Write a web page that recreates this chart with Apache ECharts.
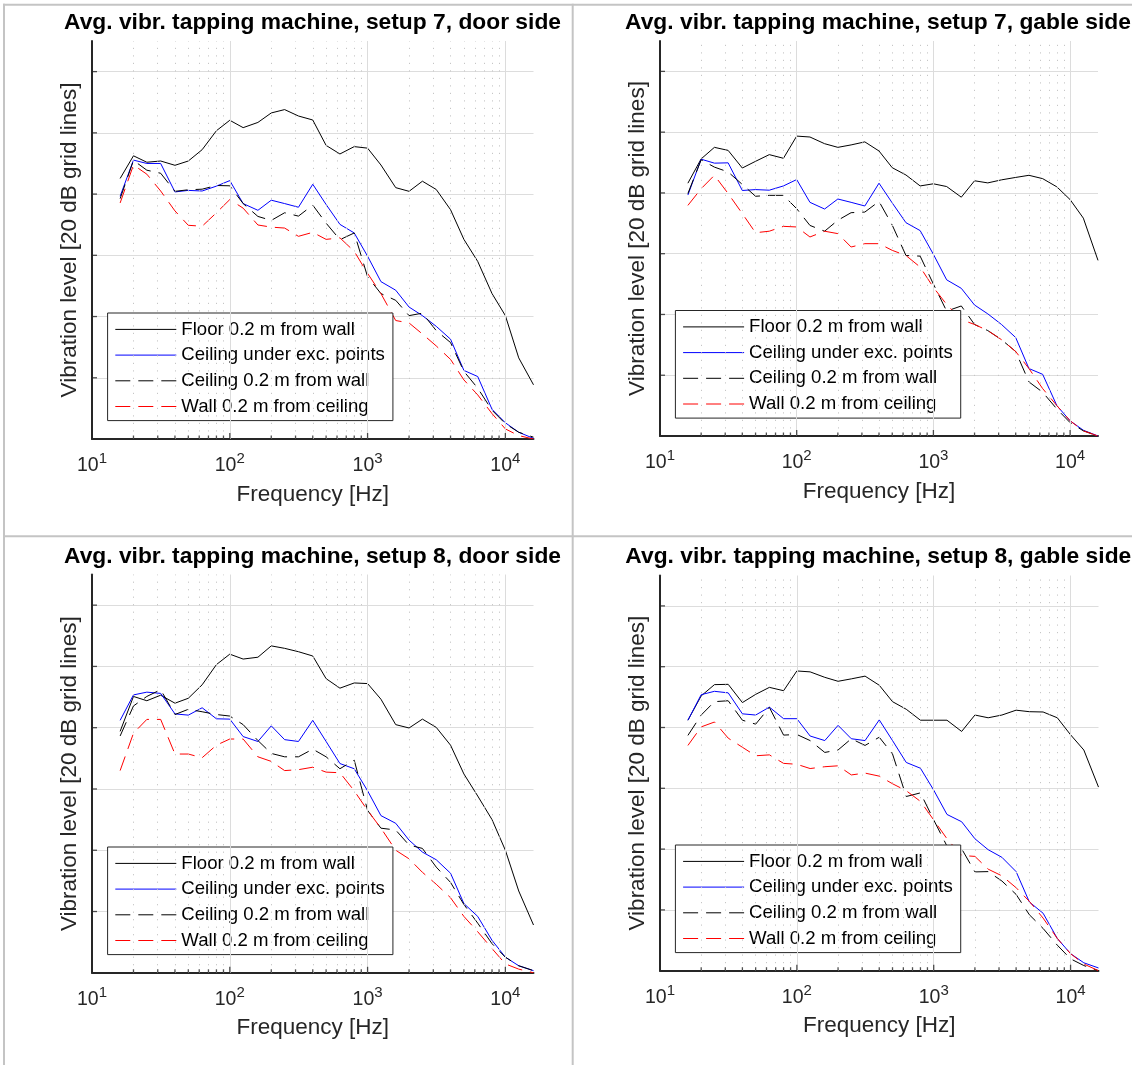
<!DOCTYPE html>
<html><head><meta charset="utf-8">
<script src="https://cdn.jsdelivr.net/npm/echarts@6/dist/echarts.min.js"></script>
<style>html,body{margin:0;padding:0;background:#fff}#c{width:1132px;height:1065px}</style>
</head><body><div id="c"></div>
<script>
// third-octave band centre frequencies [Hz]
const freqs = [16,20,25,31.5,40,50,63,80,100,125,160,200,250,315,400,500,630,800,1000,1250,1600,2000,2500,3150,4000,5000,6300,8000,10000,12500,16000];

const seriesNames = ['Floor 0.2 m from wall','Ceiling under exc. points','Ceiling 0.2 m from wall','Wall 0.2 m from ceiling'];
const panelTitles = [
  'Avg. vibr. tapping machine, setup 7, door side',
  'Avg. vibr. tapping machine, setup 7, gable side',
  'Avg. vibr. tapping machine, setup 8, door side',
  'Avg. vibr. tapping machine, setup 8, gable side'
];

// setup 7, door side
const floor7d   = [85.1,92.5,90.4,90.8,89.4,90.8,94.5,100.7,104.1,101.7,103.4,106.5,107.6,105.5,104.2,95.9,93.1,95.5,95.0,89.5,82.1,80.9,84.2,81.5,74.9,65.2,58.0,47.5,40.3,26.5,17.7];
const ceilExc7d = [79.3,91.1,90.0,90.0,80.7,81.2,81.0,82.6,84.4,76.9,74.7,78.0,76.9,75.7,83.2,76.6,70.1,67.3,59.7,51.4,48.6,43.1,40.3,36.8,32.6,22.4,20.4,9.7,5.3,2.2,0.2];
const ceilWall7d= [78.5,91.0,87.8,86.8,80.9,81.4,81.6,82.8,82.7,76.9,72.7,71.4,73.9,72.8,76.4,70.5,65.1,67.3,53.0,47.5,45.3,40.3,41.1,35.4,31.5,22.1,16.6,9.4,5.0,2.2,0.6];
const wall7d    = [77.1,89.5,86.5,81.0,74.5,69.8,69.5,73.9,78.2,75.4,69.9,69.2,68.9,66.2,67.5,65.2,65.7,61.3,54.1,47.5,38.7,37.9,34.3,30.4,26.0,19.3,14.4,8.3,3.3,1.1,0.0];

// setup 7, gable side
const floor7g   = [83.2,91.2,95.0,94.0,88.2,90.4,92.6,91.4,98.7,98.4,96.2,95.0,95.8,96.8,93.8,88.3,85.9,82.3,83.0,82.1,78.6,84.0,83.3,84.3,85.1,85.8,84.7,82.0,77.8,71.7,57.8];
const ceilExc7g = [79.3,91.1,89.8,89.9,80.8,81.1,80.9,82.3,84.4,76.9,74.7,78.0,76.9,75.7,83.2,76.7,70.2,67.6,59.8,51.4,48.6,43.1,40.2,36.7,32.4,22.2,20.3,10.0,5.0,1.9,0.0];
const ceilWall7g= [79.8,90.9,88.5,86.9,82.8,78.9,79.2,79.2,74.8,69.3,67.4,71.0,73.5,73.7,77.2,69.4,59.4,59.2,50.0,41.1,42.8,36.7,34.7,31.7,27.8,17.8,14.4,8.9,4.4,1.7,0.0];
const wall7g    = [75.9,81.4,85.8,79.8,73.2,66.9,67.4,69.0,68.8,65.5,67.4,66.6,62.2,63.3,63.3,61.1,59.4,55.6,48.9,43.3,38.3,36.7,34.7,31.7,27.8,22.2,15.6,10.0,5.0,1.7,0.0];

// setup 8, door side
const floor8d   = [78.8,90.2,88.8,90.6,88.0,89.6,94.0,100.6,104.0,102.4,103.0,106.7,105.9,104.8,103.4,96.0,92.9,94.6,94.4,89.3,81.0,79.9,82.8,80.1,74.3,64.9,57.7,50.0,40.0,26.7,15.6];
const ceilExc8d = [82.4,90.7,91.6,91.2,84.5,84.1,86.5,82.9,82.8,77.1,75.5,80.6,76.1,75.5,82.4,75.5,68.3,66.6,59.4,51.3,48.8,43.3,39.4,36.9,32.5,22.6,18.4,10.6,5.1,2.3,0.7];
const ceilWall8d= [77.3,87.1,90.2,92.4,84.3,86.0,85.2,84.3,83.8,81.0,75.8,71.6,70.5,70.5,73.0,70.5,66.6,69.4,53.0,47.2,46.6,41.7,40.6,34.5,29.5,22.3,16.2,9.5,5.1,2.3,0.7];
const wall8d    = [66.0,78.2,82.7,82.7,71.4,71.4,70.2,74.3,76.3,76.3,70.5,69.0,66.0,66.3,67.1,65.5,65.3,59.4,53.0,47.2,40.0,37.2,32.8,28.9,24.5,18.4,13.4,7.9,2.9,1.2,0.0];

// setup 8, gable side
const floor8g   = [82.4,90.4,94.1,94.2,88.2,90.9,93.2,92.1,98.6,98.3,96.5,95.2,96.0,96.9,93.9,88.5,86.0,82.4,82.4,82.4,78.7,84.1,83.2,84.1,85.7,85.2,85.1,83.2,77.6,72.6,60.4];
const ceilExc8g = [82.4,90.8,91.9,91.4,84.5,84.1,86.7,82.9,82.9,77.2,75.7,80.7,76.3,75.7,82.5,75.7,68.5,66.6,59.4,51.4,49.0,43.4,39.8,37.3,32.6,22.6,18.9,10.6,5.6,2.6,0.9];
const ceilWall8g= [77.4,84.1,88.5,88.8,82.4,81.1,86.6,77.5,77.7,75.7,71.8,72.6,76.3,74.1,76.8,71.3,57.3,58.5,49.6,41.0,40.1,32.5,32.6,29.5,25.1,18.4,13.9,8.4,3.9,1.7,0.0];
const wall8g    = [74.1,80.2,81.8,76.5,73.5,70.7,71.0,68.2,67.9,66.5,67.1,67.4,64.4,65.0,64.0,61.5,59.2,55.7,49.6,43.4,37.9,37.6,33.4,31.2,27.3,22.8,17.3,10.6,5.6,2.2,0.0];

const panelData = [
  [floor7d, ceilExc7d, ceilWall7d, wall7d],
  [floor7g, ceilExc7g, ceilWall7g, wall7g],
  [floor8d, ceilExc8d, ceilWall8d, wall8d],
  [floor8g, ceilExc8g, ceilWall8g, wall8g]
];

// axis grid / tick positions
const majorFreqTicks = [100, 1000, 10000];
const minorFreqTicks = [20,30,40,50,60,70,80,90,200,300,400,500,600,700,800,900,2000,3000,4000,5000,6000,7000,8000,9000];
const levelTicks = [20, 40, 60, 80, 100, 120];

// layout (pixels)
const GRIDS = [
  {left: 92,  top: 41,    width: 441.5, height: 398},
  {left: 660, top: 41,    width: 438,   height: 395},
  {left: 92,  top: 574.5, width: 441.5, height: 398.3},
  {left: 660, top: 575.5, width: 438.5, height: 395.2}
];
const TITLE_POS = [[312.5, 9.8],[878, 9.8],[312.5, 543.8],[878.3, 543.4]];
const LEGEND_POS = [[107.6, 313],[675.4, 310.5],[107.6, 847],[675.4, 845]];

const lineStyles = [
  {color:'#000000', width:1, type:'solid'},
  {color:'#0000ff', width:1, type:'solid'},
  {color:'#000000', width:1, type:[15,8]},
  {color:'#ff0000', width:1, type:[15,8]}
];

const FONT = '"Liberation Sans", Arial, Helvetica, sans-serif';
const AX = '#262626';

const series = [];
GRIDS.forEach((g, i) => {
  // grid lines (vertical) via markLine
  series.push({
    type: 'line', xAxisIndex: i, yAxisIndex: i, z: 1, silent: true,
    data: [], showSymbol: false,
    markLine: {
      silent: true, symbol: 'none', animation: false, label: {show: false},
      data: [
        ...minorFreqTicks.map(f => ({xAxis: f, lineStyle: {color:'#c6c6c6', width:1, type:[1.2,6.3]}})),
        ...majorFreqTicks.map(f => ({xAxis: f, lineStyle: {color:'#dcdcdc', width:1, type:'solid'}}))
      ]
    }
  });
  // data series
  panelData[i].forEach((vals, k) => {
    series.push({
      type: 'line', name: seriesNames[k], xAxisIndex: i, yAxisIndex: i, z: 3,
      symbol: 'none', showSymbol: false, smooth: false,
      lineStyle: lineStyles[k], itemStyle: {color: lineStyles[k].color, opacity: 0},
      data: freqs.map((f, j) => [f, vals[j]])
    });
  });
  // inside tick marks
  series.push({
    type: 'scatter', xAxisIndex: i, yAxisIndex: i, z: 5, silent: true, clip: false,
    symbol: 'rect', itemStyle: {color: AX},
    data: [
      ...minorFreqTicks.map(f => ({value:[f,0], symbolSize:[1.3,3.5], symbolOffset:[0,-1.75]})),
      ...majorFreqTicks.map(f => ({value:[f,0], symbolSize:[1.3,6], symbolOffset:[0,-3]})),
      ...levelTicks.map(v => ({value:[10,v], symbolSize:[5,1.3], symbolOffset:[2.5,0]}))
    ]
  });
});

const chart = echarts.init(document.getElementById('c'), null, {renderer: 'canvas'});
chart.setOption({
  animation: false,
  backgroundColor: '#ffffff',
  textStyle: {fontFamily: FONT},
  title: panelTitles.map((t, i) => ({
    text: t, left: TITLE_POS[i][0], top: TITLE_POS[i][1], textAlign: 'center', padding: 0,
    textStyle: {fontFamily: FONT, fontSize: 22.8, fontWeight: 'bold', color: '#000', lineHeight: 26}
  })),
  legend: LEGEND_POS.map(p => ({
    data: seriesNames, orient: 'vertical', left: p[0], top: p[1],
    itemWidth: 61, itemHeight: 20, itemGap: 5.7, padding: [6.4, 8, 4.1, 7.2],
    backgroundColor: '#ffffff', borderColor: AX, borderWidth: 1, borderRadius: 0,
    selectedMode: false,
    itemStyle: {opacity: 0},
    lineStyle: {width: 1},
    textStyle: {fontFamily: FONT, fontSize: 18.6, color: '#000', lineHeight: 20}
  })),
  grid: GRIDS.map(g => Object.assign({containLabel: false, outerBoundsMode: 'none'}, g)),
  xAxis: GRIDS.map((g, i) => ({
    type: 'log', logBase: 10, gridIndex: i, min: 10, max: 16000,
    name: 'Frequency [Hz]', nameLocation: 'middle', nameGap: 42,
    nameTextStyle: {fontFamily: FONT, fontSize: 22.5, color: AX, lineHeight: 26},
    axisLine: {onZero: false, lineStyle: {color: AX, width: 2}},
    axisTick: {show: false}, splitLine: {show: false}, minorTick: {show: false}, minorSplitLine: {show: false},
    axisLabel: {
      margin: 12, showMaxLabel: false, showMinLabel: true, hideOverlap: false,
      formatter: v => '{b|10}{s|' + Math.round(Math.log10(v)) + '}',
      rich: {
        b: {fontFamily: FONT, fontSize: 19.5, color: AX, lineHeight: 30},
        s: {fontFamily: FONT, fontSize: 15, color: AX, lineHeight: 15, padding: [0, 0, 14, 0]}
      }
    }
  })),
  yAxis: GRIDS.map((g, i) => ({
    type: 'value', gridIndex: i, min: 0, max: 130, interval: 20,
    name: 'Vibration level [20 dB grid lines]', nameLocation: 'middle', nameGap: 9.5,
    nameTextStyle: {fontFamily: FONT, fontSize: 22.5, color: AX, lineHeight: 26},
    axisLine: {show: true, onZero: false, lineStyle: {color: AX, width: 2}},
    axisTick: {show: false}, axisLabel: {show: false},
    splitLine: {show: true, showMaxLine: false, lineStyle: {color: '#dddddd', width: 1}}
  })),
  graphic: [
    {type:'line', shape:{x1:4, y1:3.7, x2:4, y2:1065}, style:{stroke:'#c4c4c4', lineWidth:2}, silent:true},
    {type:'line', shape:{x1:572.7, y1:3.7, x2:572.7, y2:1065}, style:{stroke:'#c4c4c4', lineWidth:2}, silent:true},
    {type:'line', shape:{x1:3, y1:4.7, x2:1132, y2:4.7}, style:{stroke:'#c4c4c4', lineWidth:2}, silent:true},
    {type:'line', shape:{x1:3, y1:536.3, x2:1132, y2:536.3}, style:{stroke:'#c4c4c4', lineWidth:2}, silent:true}
  ],
  series: series
});
</script>
</body></html>
